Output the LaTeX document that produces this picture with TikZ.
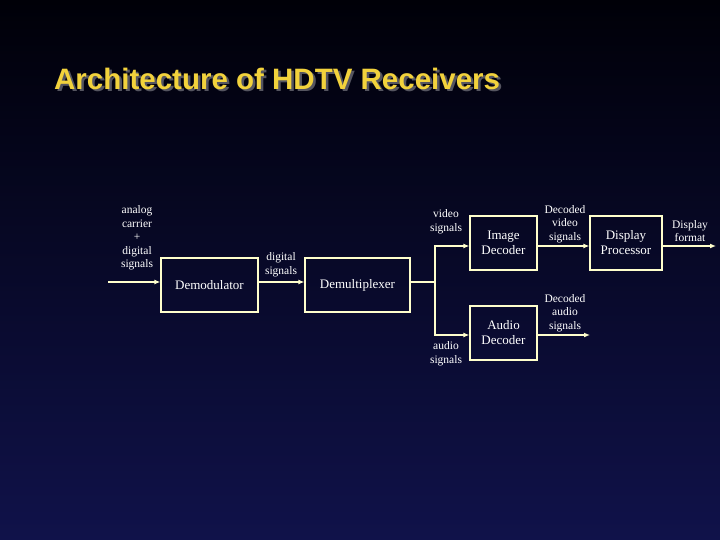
\documentclass[tikz,border=0pt]{standalone}
\usepackage{fontspec}
\setmainfont{Liberation Serif}
\newfontfamily\titlefont{Liberation Sans}
\usetikzlibrary{arrows.meta}
\definecolor{ln}{HTML}{FFFFCC}
\definecolor{ttl}{HTML}{F2D23C}
\definecolor{shd}{HTML}{555560}
\definecolor{bgtop}{HTML}{000008}
\definecolor{bgbot}{HTML}{10124A}
\begin{document}
\begin{tikzpicture}[x=1pt,y=-1pt,
  blk/.style={draw=ln,line width=1.2pt,inner sep=0pt,font=\fontsize{13}{15}\selectfont,text=white,align=center},
  lbl/.style={text=white,font=\fontsize{11.5}{13.5}\selectfont,align=center,inner sep=0pt},
  con/.style={draw=ln,line width=1.2pt,-{Latex[length=6pt,width=5pt]}},
  ttlstyle/.style={anchor=west,inner sep=0pt,font=\titlefont\bfseries\fontsize{29.5}{33}\selectfont}]
\shade[top color=bgtop,bottom color=bgbot] (0,0) rectangle (720,540);
\useasboundingbox (0,0) rectangle (720,540);
\node[ttlstyle,text=shd] (tshadow) at (56.5,81) {Architecture of HDTV Receivers};
\node[ttlstyle,text=ttl] (title) at (54,79) {Architecture of HDTV Receivers};
\node[blk,minimum width=97,minimum height=54] (dem) at (209.5,285) {Demodulator};
\node[blk,minimum width=105,minimum height=54] (dmx) at (357.5,285) {Demultiplexer};
\node[blk,minimum width=67,minimum height=54] (img) at (503.5,243) {Image\\Decoder};
\node[blk,minimum width=67,minimum height=54] (aud) at (503.5,333) {Audio\\Decoder};
\node[blk,minimum width=72,minimum height=54] (dp) at (626,243) {Display\\Processor};
\coordinate (in) at (108,282);
\coordinate (br) at (435,282);
\coordinate (dpo) at (716,246);
\coordinate (ado) at (590,335);
\draw[con] (in) -- (in -| dem.west);
\draw[con] (dem.east |- in) -- (dmx.west |- in);
\draw[draw=ln,line width=1.2pt] (dmx.east |- br) -- (br);
\draw[con] (br) |- (img.west |- 0,246);
\draw[con] (br) |- (aud.west |- 0,335);
\draw[con] (img.east |- 0,246) -- (dp.west |- 0,246);
\draw[con] (dp.east |- dpo) -- (dpo);
\draw[con] (aud.east |- ado) -- (ado);
\node[lbl] (l1) at (137,238) {analog\\carrier\\+\\digital\\signals};
\node[lbl] (l2) at (281,265) {digital\\signals};
\node[lbl] (l3) at (446,222) {video\\signals};
\node[lbl] (l4) at (446,354) {audio\\signals};
\node[lbl] (l5) at (565,224) {Decoded\\video\\signals};
\node[lbl] (l6) at (565,313) {Decoded\\audio\\signals};
\node[lbl] (l7) at (690,231) {Display\\format};
\end{tikzpicture}
\end{document}
